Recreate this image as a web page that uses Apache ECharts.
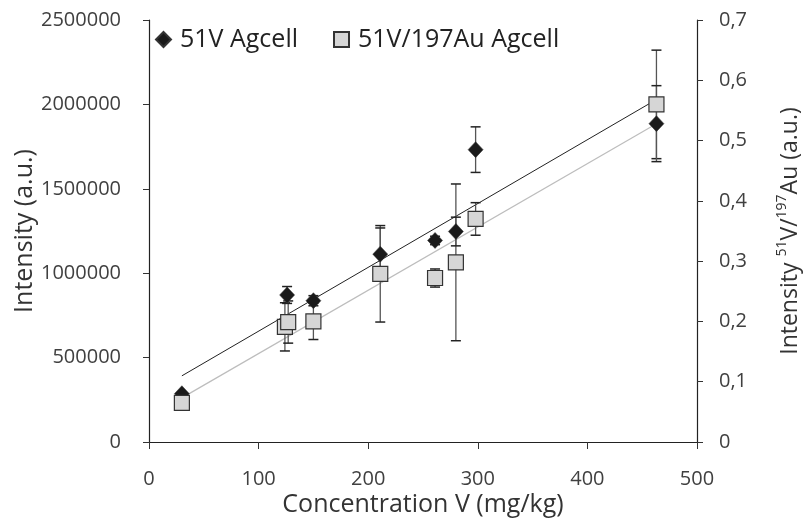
<!DOCTYPE html>
<html>
<head>
<meta charset="utf-8">
<script src="https://cdn.jsdelivr.net/npm/echarts@6/dist/echarts.min.js"></script>
<style>html,body{margin:0;padding:0;background:#fff}#c{width:803px;height:520px}</style>
</head>
<body>
<div id="c"></div>
<script>
// Data
const xDiamond = [30, 126, 150, 211, 261, 280, 298, 463];
const yDiamond = [286000, 871000, 837000, 1113000, 1194000, 1247000, 1732000, 1886000];
const errDiamond = [0, 50000, 30000, 155000, 25000, 85000, 135000, 225000];

const xSquare = [30, 124, 127, 150, 211, 261, 280, 298, 463];
const ySquare = [0.065, 0.191, 0.199, 0.2, 0.279, 0.272, 0.298, 0.37, 0.56];
const errSquare = [0.005, 0.04, 0.035, 0.03, 0.08, 0.015, 0.13, 0.027, 0.09];

const trendDiamondX = [30, 463];
const trendDiamondY = [392000, 2029000];
const trendSquareX = [30, 463];
const trendSquareY = [0.0732, 0.528];

const seriesNames = ['51V Agcell', '51V/197Au Agcell'];

const FONT = 'Open Sans';
const chart = echarts.init(document.getElementById('c'), null, {renderer: 'canvas'});

function errRender(params, api) {
  const x = api.value(0), lo = api.value(1), hi = api.value(2);
  const p1 = api.coord([x, lo]);
  const p2 = api.coord([x, hi]);
  const w = 5;
  const st = {stroke: '#555', lineWidth: 1.3};
  return {
    type: 'group',
    children: [
      {type: 'line', shape: {x1: p1[0], y1: p1[1], x2: p2[0], y2: p2[1]}, style: st},
      {type: 'line', shape: {x1: p1[0] - w, y1: p1[1], x2: p1[0] + w, y2: p1[1]}, style: {stroke: '#222', lineWidth: 1.5}},
      {type: 'line', shape: {x1: p2[0] - w, y1: p2[1], x2: p2[0] + w, y2: p2[1]}, style: {stroke: '#222', lineWidth: 1.5}}
    ]
  };
}

const axisLabelStyle = {color: '#404040', fontFamily: FONT, fontSize: 20};

const option = {
  animation: false,
  backgroundColor: '#fff',
  grid: {left: 149, right: 106, top: 20, bottom: 78, outerBoundsMode: 'none', containLabel: false},
  legend: {
    left: 150, top: 22,
    itemGap: 35,
    itemWidth: 15, itemHeight: 15,
    textStyle: {fontFamily: FONT, fontSize: 25, color: '#222', padding: [0, 0, 0, 4]},
    data: [
      {name: seriesNames[0], icon: 'diamond'},
      {name: seriesNames[1], icon: 'rect'}
    ]
  },
  xAxis: {
    type: 'value', min: 0, max: 500, interval: 100,
    name: 'Concentration V (mg/kg)', nameLocation: 'middle', nameGap: 50, nameMoveOverlap: false,
    nameTextStyle: {fontFamily: FONT, fontSize: 25, color: '#333'},
    axisLine: {lineStyle: {color: '#222', width: 1.2}},
    axisTick: {show: true, length: 7, lineStyle: {color: '#333'}},
    axisLabel: Object.assign({margin: 27}, axisLabelStyle),
    splitLine: {show: false}
  },
  yAxis: [
    {
      type: 'value', min: 0, max: 2500000, interval: 500000, position: 'left',
      name: 'Intensity (a.u.)', nameLocation: 'middle', nameGap: 112, nameRotate: 90, nameMoveOverlap: false,
      nameTextStyle: {fontFamily: FONT, fontSize: 25, color: '#333'},
      axisLine: {show: true, lineStyle: {color: '#222', width: 1.2}},
      axisTick: {show: true, length: 6, lineStyle: {color: '#333'}},
      axisLabel: Object.assign({margin: 28, formatter: v => String(v)}, axisLabelStyle),
      splitLine: {show: false}
    },
    {
      type: 'value', min: 0, max: 0.7, interval: 0.1, position: 'right',
      name: '{a|Intensity }{s|51}{a|V/}{s|197}{a|Au (a.u.)}',
      nameLocation: 'middle', nameGap: 76, nameRotate: 90, nameMoveOverlap: false,
      nameTextStyle: {
        fontFamily: FONT, fontSize: 23, color: '#333',
        rich: {
          a: {fontFamily: FONT, fontSize: 23, color: '#333', lineHeight: 29, verticalAlign: 'bottom'},
          s: {fontFamily: FONT, fontSize: 14, color: '#333', lineHeight: 29, verticalAlign: 'top', padding: [2, 0, 0, 0]}
        }
      },
      axisLine: {show: true, lineStyle: {color: '#222', width: 1.2}},
      axisTick: {show: true, length: 6, lineStyle: {color: '#333'}},
      axisLabel: Object.assign({
        margin: 22,
        formatter: v => (v === 0 ? '0' : (Math.round(v * 10) / 10).toFixed(1).replace('.', ','))
      }, axisLabelStyle),
      splitLine: {show: false}
    }
  ],
  series: [
    {
      type: 'line', yAxisIndex: 0, silent: true, symbol: 'none', z: 2,
      lineStyle: {color: '#222', width: 1},
      data: trendDiamondX.map((x, i) => [x, trendDiamondY[i]])
    },
    {
      type: 'line', yAxisIndex: 1, silent: true, symbol: 'none', z: 2,
      lineStyle: {color: '#bdbdbd', width: 1.2},
      data: trendSquareX.map((x, i) => [x, trendSquareY[i]])
    },
    {
      type: 'custom', yAxisIndex: 1, z: 3, silent: true,
      renderItem: errRender,
      encode: {x: 0, y: [1, 2]},
      data: xSquare.map((x, i) => [x, ySquare[i] - errSquare[i], ySquare[i] + errSquare[i]])
    },
    {
      type: 'custom', yAxisIndex: 0, z: 3, silent: true,
      renderItem: errRender,
      encode: {x: 0, y: [1, 2]},
      data: xDiamond.map((x, i) => [x, yDiamond[i] - errDiamond[i], yDiamond[i] + errDiamond[i]])
    },
    {
      name: seriesNames[0], type: 'scatter', yAxisIndex: 0, z: 4,
      symbol: 'diamond', symbolSize: [15, 16],
      itemStyle: {color: '#1a1a1a', borderColor: '#333', borderWidth: 0.5, opacity: 1},
      data: xDiamond.map((x, i) => [x, yDiamond[i]])
    },
    {
      name: seriesNames[1], type: 'scatter', yAxisIndex: 1, z: 5,
      symbol: 'rect', symbolSize: 15,
      itemStyle: {color: '#d6d6d6', borderColor: '#333', borderWidth: 1.2, opacity: 1},
      data: xSquare.map((x, i) => [x, ySquare[i]])
    }
  ]
};
chart.setOption(option);
</script>
</body>
</html>
